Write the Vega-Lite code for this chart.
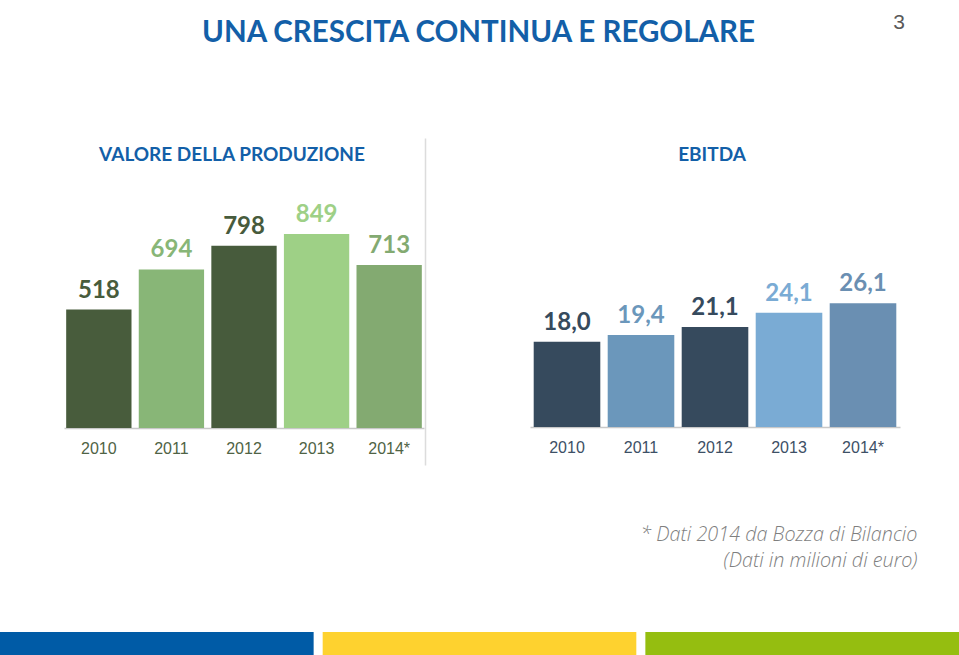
{
  "$schema": "https://vega.github.io/schema/vega-lite/v6.json",
  "autosize": "none",
  "padding": {"left": 64, "top": 138, "right": 895, "bottom": 517},
  "background": "white",
  "bounds": "flush",
  "spacing": 494,
  "resolve": {"scale": {"color": "independent", "x": "independent", "y": "independent"}},
  "config": {
    "view": {"stroke": null},
    "locale": {"number": {"decimal": ",", "thousands": ".", "grouping": [3], "currency": ["€", ""]}}
  },
  "title": {
    "text": "UNA CRESCITA CONTINUA E REGOLARE",
    "anchor": "start",
    "frame": "group",
    "dx": 138,
    "offset": -36,
    "font": "Lato",
    "fontSize": 29.5,
    "fontWeight": "bold",
    "color": "#135fa8"
  },
  "vconcat": [
    {
      "bounds": "flush",
      "spacing": 106,
      "resolve": {"scale": {"color": "independent", "x": "independent", "y": "independent"}},
      "hconcat": [
        {
          "width": 360,
          "height": 327,
          "title": {"text": "VALORE DELLA PRODUZIONE", "offset": -27, "dx": -12, "anchor": "middle", "frame": "group", "font": "Lato", "fontSize": 19, "fontWeight": "bold", "color": "#135fa8"},
          "data": {"values": [
            {"year": "2010", "value": 518},
            {"year": "2011", "value": 694},
            {"year": "2012", "value": 798},
            {"year": "2013", "value": 849},
            {"year": "2014*", "value": 713}
          ]},
          "encoding": {
            "x": {"field": "year", "type": "nominal", "sort": null,
              "scale": {"paddingInner": 0.1, "paddingOuter": 0.03},
              "axis": {"title": null, "offset": -37, "ticks": false, "labelAngle": 0, "labelPadding": 12, "labelFont": "Liberation Sans", "labelFontSize": 16, "labelColor": "#4f6345", "domainColor": "#c8c8c8", "domainWidth": 1.5}},
            "y": {"field": "value", "type": "quantitative",
              "scale": {"domain": [-162, 1269], "nice": false, "zero": false},
              "axis": {"orient": "right", "labels": false, "ticks": false, "grid": false, "title": null, "domainColor": "#dcdcdc", "domainWidth": 1.5, "offset": 1}},
            "color": {"field": "year", "type": "nominal", "sort": null,
              "scale": {"domain": ["2010", "2011", "2012", "2013", "2014*"], "range": ["#485c3c", "#88b677", "#475b3c", "#9ed086", "#83aa71"]},
              "legend": null}
          },
          "layer": [
            {"mark": {"type": "bar"}},
            {"mark": {"type": "text", "baseline": "alphabetic", "dy": -12, "font": "Lato", "fontSize": 24, "fontWeight": "bold"},
             "encoding": {"text": {"field": "value", "type": "quantitative", "format": "d"}}}
          ]
        },
        {
          "width": 370,
          "height": 327,
          "title": {"text": "EBITDA", "offset": -27, "dx": -3, "anchor": "middle", "frame": "group", "font": "Lato", "fontSize": 19, "fontWeight": "bold", "color": "#135fa8"},
          "data": {"values": [
            {"year": "2010", "value": 18.0},
            {"year": "2011", "value": 19.4},
            {"year": "2012", "value": 21.1},
            {"year": "2013", "value": 24.1},
            {"year": "2014*", "value": 26.1}
          ]},
          "encoding": {
            "x": {"field": "year", "type": "nominal", "sort": null,
              "scale": {"paddingInner": 0.1, "paddingOuter": 0.05},
              "axis": {"offset": -38, "ticks": false, "labelAngle": 0, "labelPadding": 12, "labelFont": "Liberation Sans", "labelFontSize": 16, "labelColor": "#3d5066", "domainColor": "#c8c8c8", "domainWidth": 1.5,
                "title": ["* Dati 2014 da Bozza di Bilancio", "(Dati in milioni di euro)"],
                "titleX": 387, "titleY": 113, "titleAlign": "right", "titleBaseline": "alphabetic", "titleFont": "Open Sans", "titleFontStyle": "italic", "titleFontWeight": 300, "titleFontSize": 19.8, "titleColor": "#7f7f7f", "titleLineHeight": 26}},
            "y": {"field": "value", "type": "quantitative",
              "scale": {"domain": [-8.02, 60.97], "nice": false, "zero": false},
              "axis": null},
            "color": {"field": "year", "type": "nominal", "sort": null,
              "scale": {"domain": ["2010", "2011", "2012", "2013", "2014*"], "range": ["#364a5d", "#6b97bb", "#364a5d", "#7aabd4", "#6a8fb2"]},
              "legend": null}
          },
          "layer": [
            {"mark": {"type": "bar"}},
            {"mark": {"type": "text", "baseline": "alphabetic", "dy": -12, "font": "Lato", "fontSize": 24, "fontWeight": "bold"},
             "encoding": {"text": {"field": "value", "type": "quantitative", "format": ".1f"}}}
          ]
        }
      ]
    },
    {
      "width": 895,
      "height": 23,
      "title": {"text": "3", "anchor": "end", "frame": "group", "dx": -54, "offset": 599, "font": "Liberation Sans", "fontSize": 21, "fontWeight": "normal", "color": "#595959"},
      "data": {"values": [{"k": "a"}, {"k": "b"}, {"k": "c"}]},
      "mark": {"type": "rect"},
      "encoding": {
        "x": {"field": "k", "type": "nominal", "scale": {"range": [-64, 895], "paddingInner": 0.028, "paddingOuter": 0}, "axis": null},
        "color": {"field": "k", "type": "nominal", "scale": {"domain": ["a", "b", "c"], "range": ["#005ba6", "#fed22f", "#95be10"]}, "legend": null}
      }
    }
  ]
}
